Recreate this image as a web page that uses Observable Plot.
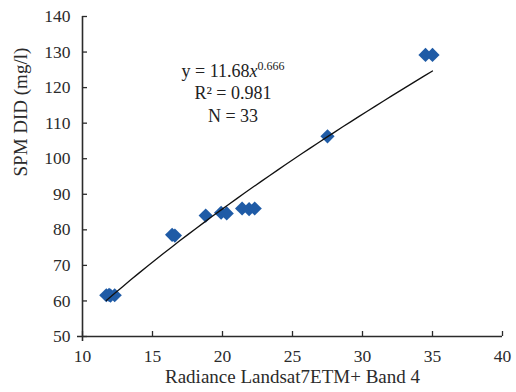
<!DOCTYPE html>
<html><head><meta charset="utf-8">
<script src="https://cdn.jsdelivr.net/npm/d3@7"></script>
<script src="https://cdn.jsdelivr.net/npm/@observablehq/plot@0.6"></script>
<style>body{margin:0;background:#fff}</style>
</head><body><div id="chart"></div>
<script>
// Observed points (radiance, SPM)
const radiance = [11.7, 11.9, 12.0, 12.3, 16.4, 16.6, 18.8, 19.9, 20.3, 21.4, 21.9, 22.3, 27.5, 34.5, 35.0];
const spm      = [61.6, 61.7, 61.5, 61.6, 78.6, 78.4, 84.0, 84.8, 84.6, 86.0, 85.8, 86.0, 106.3, 129.2, 129.2];
// Power fit shown on chart: y = a * x^b
const fitA = 11.68, fitB = 0.666;
const xTicks = [10, 15, 20, 25, 30, 35, 40];
const yTicks = [50, 60, 70, 80, 90, 100, 110, 120, 130, 140];
const labelLines = ["y = 11.68x0.666", "R\u00b2 = 0.981", "N = 33"];
const labelX = [20.75, 20.75, 20.75];
const labelY = [124.5, 118.3, 112.0];

const pts = radiance.map((x, i) => ({x, y: spm[i]}));
const xs = d3.extent(radiance);
const fit = d3.range(0, 41).map(i => { const x = xs[0] + (xs[1] - xs[0]) * i / 40; return {x, y: fitA * Math.pow(x, fitB)}; });
const labels = labelLines.map((t, i) => ({t, x: labelX[i], y: labelY[i]}));

const ink = "#2b2b2b";
const chart = Plot.plot({
  width: 516, height: 392,
  marginLeft: 82, marginRight: 14, marginTop: 16, marginBottom: 56,
  style: {fontFamily: "'Liberation Serif', 'DejaVu Serif', serif", fontSize: "17.5px", color: ink, background: "#fff"},
  x: {domain: [10, 40]},
  y: {domain: [50, 140]},
  marks: [
    Plot.axisY({ticks: yTicks, tickSize: 0, tickPadding: 12, label: null, fontSize: 17.5}),
    Plot.axisY({ticks: yTicks, tickSize: 5, dx: 5, text: null, label: null, stroke: ink, strokeWidth: 1.3}),
    Plot.axisX({ticks: xTicks, tickSize: 0, tickPadding: 13, label: null, fontSize: 17.5}),
    Plot.axisX({ticks: xTicks, tickSize: 5, dy: -5, text: null, label: null, stroke: ink, strokeWidth: 1.3}),
    Plot.ruleX([10], {stroke: ink, strokeWidth: 1.6, insetBottom: -5}),
    Plot.ruleY([50], {stroke: ink, strokeWidth: 1.6, insetLeft: -5}),
    Plot.dot(pts, {x: "x", y: "y", symbol: "diamond2", r: 6.4, fill: "#1f5ba6", stroke: "none"}),
    Plot.line(fit, {x: "x", y: "y", stroke: "#111", strokeWidth: 1.3}),
    Plot.text(labels, {x: "x", y: "y", text: "t", fontSize: 18, fill: "#222", className: "eqlab"}),
    Plot.text(["SPM DID (mg/l)"], {frameAnchor: "left", dx: -62, rotate: -90, text: d => d, fontSize: 19, fill: ink}),
    Plot.text(["Radiance Landsat7ETM+ Band 4"], {frameAnchor: "bottom", dy: 46, text: d => d, fontSize: 19, fill: ink})
  ]
});
document.getElementById("chart").appendChild(chart);
// superscript exponent / italic x in the equation
const first = chart.querySelector(".eqlab text");
if (first) {
  first.textContent = "";
  const ns = "http://www.w3.org/2000/svg";
  const a = document.createElementNS(ns, "tspan"); a.textContent = "y = 11.68";
  const b = document.createElementNS(ns, "tspan"); b.textContent = "x"; b.setAttribute("font-style", "italic");
  const c = document.createElementNS(ns, "tspan"); c.textContent = "0.666"; c.setAttribute("font-size", "12"); c.setAttribute("dy", "-7");
  first.append(a, b, c);
}
</script>
</body></html>
